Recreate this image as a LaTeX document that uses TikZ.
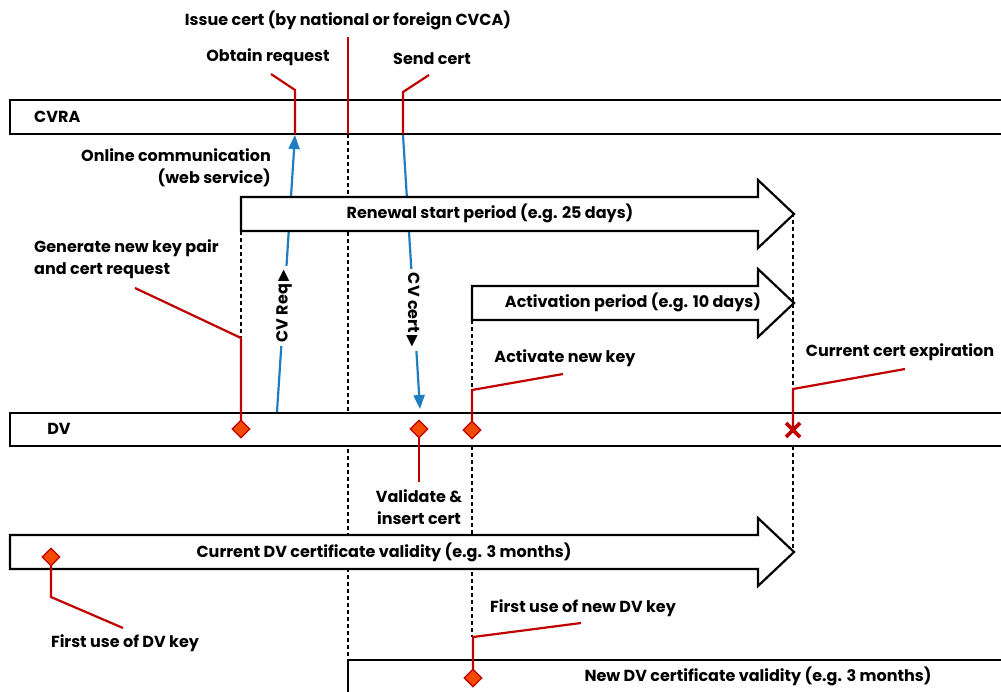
\documentclass[tikz,border=0pt]{standalone}
\usepackage{fontspec}
\setmainfont{Poppins}
\newfontfamily\symfont{DejaVu Sans}
\usetikzlibrary{arrows.meta,shapes.geometric}
\definecolor{lred}{HTML}{C00000}
\definecolor{lblue}{HTML}{1F7DC2}
\definecolor{dfill}{HTML}{F24B00}
\begin{document}
\begin{tikzpicture}[x=1pt,y=-1pt,
  font=\bfseries\fontsize{16}{21.5}\selectfont,
  bar/.style={draw=black, line width=2.2pt, fill=white},
  vdash/.style={draw=black, line width=2pt, dash pattern=on 4pt off 3pt},
  redl/.style={draw=lred, line width=2.2pt},
  bluel/.style={draw=lblue, line width=2.2pt, -{Triangle[length=14pt,width=11pt]}},
  mdia/.style={diamond, draw=lred, fill=dfill, line width=1.3pt, inner sep=0pt, minimum size=18pt},
  lbl/.style={inner sep=1pt},
  vlbl/.style={inner sep=4pt, fill=white},
]
\useasboundingbox (0,0) rectangle (1001,691);
\clip (0,0) rectangle (1001,691);

% key coordinates
\coordinate (reqS) at (277,412);
\coordinate (reqE) at (295,135);
\coordinate (certS) at (403,135);
\coordinate (certE) at (420,409);

% dashed guides
\draw[vdash] (241,231) -- (241,338);
\draw[vdash] (348,134) -- (348,660);
\draw[vdash] (472,320) -- (472,390);
\draw[vdash] (472,446) -- (472,637);
\draw[vdash] (793,213) -- (793,389);
\draw[vdash] (793,446) -- (793,552);

% blue messages
\draw[bluel] (reqS) -- (reqE);
\draw[bluel] (certS) -- (certE);

% bars
\draw[bar] (10,100) rectangle (1010,134);
\draw[bar] (10,413) rectangle (1010,446);
\draw[bar] (241,197) -- (758,197) -- (758,180) -- (794,214) -- (758,248) -- (758,231) -- (241,231) -- cycle;
\draw[bar] (472,286) -- (758,286) -- (758,269) -- (794,303) -- (758,337) -- (758,320) -- (472,320) -- cycle;
\draw[bar] (10,535) -- (758,535) -- (758,518) -- (794,552) -- (758,586) -- (758,569) -- (10,569) -- cycle;
\draw[line width=2.2pt] (1010,660) -- (348,660) -- (348,700);

% rotated message labels
\node[vlbl, rotate=90] (lreq) at (284,306) {CV Req\,{\symfont\fontsize{15}{15}\selectfont ▶}};
\node[vlbl, rotate=-90] (lcert) at (413,310) {CV cert\,{\symfont\fontsize{15}{15}\selectfont ▶}};

% red pointers
\draw[redl] (271,74) -- (295,90) -- (295,134);
\draw[redl] (429,75) -- (403,92) -- (403,134);
\draw[redl] (348,37) -- (348,134);
\draw[redl] (135,288) -- (241,338) -- (241,429);
\draw[redl] (563,374) -- (472,390) -- (472,430);
\draw[redl] (905,369) -- (793,389) -- (793,430);
\draw[redl] (419,429) -- (419,482);
\draw[redl] (51,557) -- (51,597) -- (123,628);
\draw[redl] (581,623) -- (473,637) -- (473,678);

% markers
\node[mdia] (d1) at (241,429) {};
\node[mdia] (d2) at (419,429) {};
\node[mdia] (d3) at (472,430) {};
\node[mdia] (d4) at (51,557) {};
\node[mdia] (d5) at (473,678) {};
\draw[draw=lred, line width=3.8pt] (786,423) -- (800,437) (786,437) -- (800,423);

% texts
\node[lbl] (tissue) at (348,20) {Issue cert (by national or foreign CVCA)};
\node[lbl] (tobtain) at (268,57) {Obtain request};
\node[lbl] (tsend) at (432,59) {Send cert};
\node[lbl, anchor=west] (tcvra) at (33,117) {CVRA};
\node[lbl, anchor=east, align=right] (tonline) at (272,168) {Online communication\\(web service)};
\node[lbl] (trenew) at (490,213) {Renewal start period (e.g. 25 days)};
\node[lbl, anchor=west, align=left] (tgen) at (33,259) {Generate new key pair\\and cert request};
\node[lbl] (tact) at (633,302) {Activation period (e.g. 10 days)};
\node[lbl] (tactk) at (565,358) {Activate new key};
\node[lbl] (texp) at (900,352) {Current cert expiration};
\node[lbl] (tdv) at (59,429) {DV};
\node[lbl, align=center] (tval) at (419,507) {Validate \&\\insert cert};
\node[lbl] (tcur) at (384,552) {Current DV certificate validity (e.g. 3 months)};
\node[lbl] (tfirst) at (125,643) {First use of DV key};
\node[lbl] (tfirstn) at (583,608) {First use of new DV key};
\node[lbl] (tnew) at (758,676) {New DV certificate validity (e.g. 3 months)};
\end{tikzpicture}
\end{document}
